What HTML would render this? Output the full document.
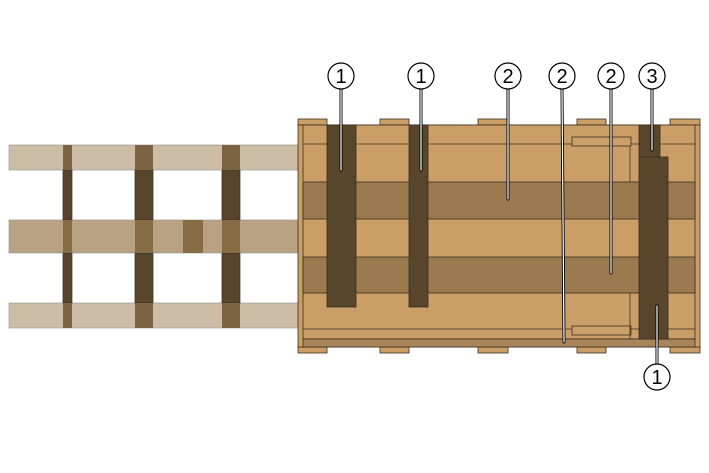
<!DOCTYPE html>
<html><head><meta charset="utf-8"><style>body{margin:0;background:#fff}svg{display:block}</style></head><body>
<svg width="709" height="473" viewBox="0 0 709 473" xmlns="http://www.w3.org/2000/svg" font-family="Liberation Sans, sans-serif">
<rect width="709" height="473" fill="#fff"/>
<!-- left grid -->
<g stroke="#9a9a9a" stroke-width="0.7">
<rect x="9" y="145" width="289" height="25" fill="#cebda6"/>
<rect x="9" y="220" width="289" height="33" fill="#b9a183"/>
<rect x="9" y="303" width="289" height="25" fill="#cebda6"/>
</g>
<g fill="#57452c" stroke="#3a2e1c" stroke-width="0.7">
<rect x="63" y="170" width="9" height="50"/><rect x="63" y="253" width="9" height="50"/>
<rect x="135" y="170" width="18" height="50"/><rect x="135" y="253" width="18" height="50"/>
<rect x="222" y="170" width="18" height="50"/><rect x="222" y="253" width="18" height="50"/>
</g>
<g fill="#7b6241">
<rect x="63" y="145" width="9" height="25"/><rect x="63" y="303" width="9" height="25"/>
<rect x="135" y="145" width="18" height="25"/><rect x="135" y="303" width="18" height="25"/>
<rect x="222" y="145" width="18" height="25"/><rect x="222" y="303" width="18" height="25"/>
</g>
<g fill="#876b45">
<rect x="63" y="220" width="9" height="33"/><rect x="135" y="220" width="18" height="33"/><rect x="222" y="220" width="18" height="33"/><rect x="183" y="220" width="20" height="33"/>
</g>
<!-- crate -->
<g stroke="#3a2e1c" stroke-width="0.8">
<g fill="#cb9e68">
<rect x="298" y="119" width="29" height="6"/><rect x="380" y="119" width="29" height="6"/><rect x="478" y="119" width="30" height="6"/><rect x="577" y="119" width="29" height="6"/><rect x="670" y="119" width="30" height="6"/>
<rect x="298" y="347" width="29" height="6"/><rect x="380" y="347" width="29" height="6"/><rect x="478" y="347" width="30" height="6"/><rect x="577" y="347" width="29" height="6"/><rect x="670" y="347" width="30" height="6"/>
<rect x="298" y="125" width="402" height="222"/>
<rect x="303" y="125" width="392" height="214"/>
</g>
<rect x="303" y="182" width="392" height="37" fill="#9b7a50"/>
<rect x="303" y="257" width="392" height="36" fill="#9b7a50"/>
<rect x="303" y="339" width="392" height="8" fill="#a8855a"/>
<line x1="303" y1="144" x2="695" y2="144"/>
<line x1="303" y1="329" x2="695" y2="329"/>
<rect x="572" y="137" width="59" height="9" fill="#cb9e68"/>
<rect x="572" y="326" width="59" height="9" fill="#cb9e68"/>
<line x1="630" y1="146" x2="630" y2="182"/>
<line x1="630" y1="293" x2="630" y2="339"/>
<g fill="#57452c">
<rect x="327" y="125" width="29" height="182"/>
<rect x="409" y="125" width="19" height="182"/>
<rect x="639" y="125" width="21" height="32"/>
<rect x="639" y="157" width="29" height="182"/>
</g>
</g>
<!-- callout lines -->
<g stroke="#000" stroke-width="3" stroke-linecap="round" fill="none">
<path d="M341 89V170M421 89V170M508 89V199M562 89L564 342M611 89V273M652 89V150M657 363V306"/>
</g>
<g stroke="#fff" stroke-width="1.2" stroke-linecap="round" fill="none">
<path d="M341 89V170M421 89V170M508 89V199M562 89L564 342M611 89V273M652 89V150M657 363V306"/>
</g>
<g fill="#fff" stroke="#000" stroke-width="1.2">
<circle cx="341" cy="76" r="13"/><circle cx="421" cy="76" r="13"/><circle cx="508" cy="76" r="13"/><circle cx="562" cy="76" r="13"/><circle cx="611" cy="76" r="13"/><circle cx="652" cy="76" r="13"/><circle cx="657" cy="377" r="13"/>
</g>
<g font-size="20" text-anchor="middle" fill="#000">
<text x="341" y="83">1</text><text x="421" y="83">1</text><text x="508" y="83">2</text><text x="562" y="83">2</text><text x="611" y="83">2</text><text x="652" y="83">3</text><text x="657" y="384">1</text>
</g>
</svg>
</body></html>
